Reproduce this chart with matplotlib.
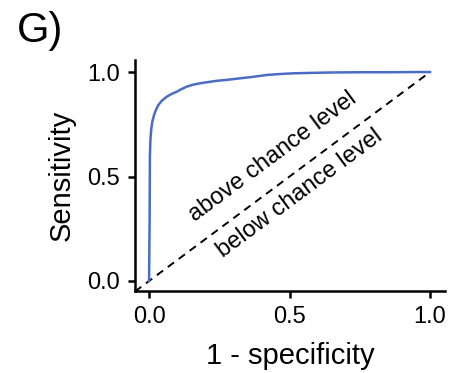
import numpy as np
import matplotlib.pyplot as plt

plt.rcParams['font.family'] = ['Liberation Sans', 'DejaVu Sans']

# ROC curve
fpr = [0.0, 0.002, 0.003, 0.005, 0.008, 0.012, 0.018, 0.025, 0.033, 0.045, 0.063, 0.08, 0.099,
       0.115, 0.134, 0.155, 0.181, 0.21, 0.241, 0.28, 0.324, 0.37, 0.419, 0.46, 0.514,
       0.58, 0.657, 0.75, 0.85, 0.95, 1.0]
tpr = [0.0, 0.3, 0.6, 0.68, 0.73, 0.765, 0.795, 0.82, 0.842, 0.862, 0.882, 0.895, 0.906,
       0.918, 0.93, 0.939, 0.946, 0.952, 0.958, 0.963, 0.97, 0.977, 0.986, 0.99, 0.994,
       0.996, 0.998, 0.999, 0.999, 1.0, 1.0]
chance_x = [-0.05, 1.0]
chance_y = [-0.05, 1.0]
ticks = [0.0, 0.5, 1.0]

fig = plt.figure(figsize=(4.63, 3.73), dpi=100)
ax = fig.add_axes([0.2916, 0.2198, 0.6694, 0.619])

ax.plot(chance_x, chance_y, color='black', linestyle=(0, (4, 3)), linewidth=1.4)
ax.plot(fpr, tpr, color='#4a6cc4', linewidth=1.8)

ax.text(0.44, 0.593, 'above chance level', rotation=36.6, fontsize=17,
        ha='center', va='center', rotation_mode='anchor')
ax.text(0.537, 0.42, 'below chance level', rotation=36.6, fontsize=17,
        ha='center', va='center', rotation_mode='anchor')

ax.set_xlim(-0.05, 1.053)
ax.set_ylim(-0.048, 1.057)
ax.set_xticks(ticks)
ax.set_yticks(ticks)
ax.set_xticklabels(['0.0', '0.5', '1.0'])
ax.set_yticklabels(['0.0', '0.5', '1.0'])
ax.tick_params(labelsize=17, width=1.8, length=5, direction='out')
ax.tick_params(axis='x', pad=6)
ax.tick_params(axis='y', pad=6)
for s in ['top', 'right']:
    ax.spines[s].set_visible(False)
for s in ['left', 'bottom']:
    ax.spines[s].set_linewidth(1.8)

ax.set_xlabel('1 - specificity', fontsize=21, labelpad=10)
ax.set_ylabel('Sensitivity', fontsize=21, labelpad=8)

fig.text(0.037, 0.887, 'G)', fontsize=30)

fig.savefig('out.png', dpi=100)
